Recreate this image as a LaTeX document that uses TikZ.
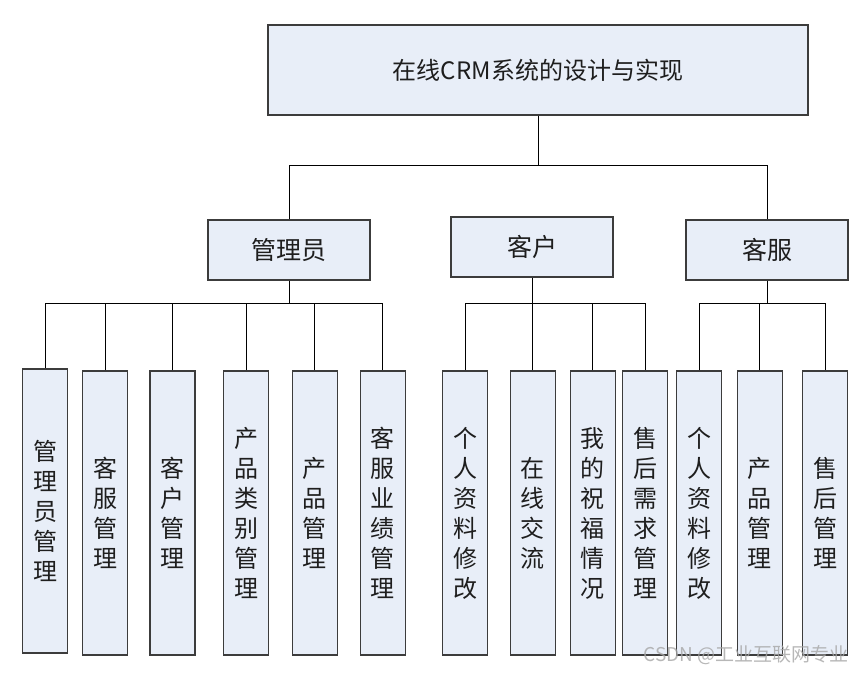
\documentclass[tikz,border=0pt]{standalone}
\usepackage{fontspec}
\newfontfamily\cjk{Noto Sans CJK SC}
\definecolor{boxfill}{RGB}{232,238,248}
\definecolor{boxline}{RGB}{60,60,60}
\definecolor{txt}{RGB}{30,30,30}
\tikzset{
  box/.style={draw=boxline, line width=1.3pt, fill=boxfill, inner sep=0pt, text=txt},
  topbox/.style={box, minimum width=540, minimum height=90, font=\cjk\fontsize{24}{28}\selectfont},
  midbox/.style={box, minimum width=162, minimum height=60, font=\cjk\fontsize{25}{30}\selectfont},
  leafbox/.style={box, minimum width=45, minimum height=284, align=center, font=\cjk\fontsize{24}{30}\selectfont},
  conn/.style={draw=black, line width=1pt},
}
\begin{document}
\begin{tikzpicture}[x=1pt,y=-1pt]
\useasboundingbox (0,0) rectangle (865,673);
\fill[white] (0,0) rectangle (865,673);
% top
\node[topbox] (top) at (538,70) {在线CRM系统的设计与实现};
% middle
\node[midbox] (adm) at (289,250) {管理员};
\node[midbox] (cus) at (532,247) {客户};
\node[midbox] (svc) at (767,250) {客服};
% leaves
\node[leafbox] (a1) at (45.2,511) {管\\理\\员\\管\\理};
\node[leafbox] (a2) at (105.2,513) {客\\服\\管\\理};
\node[leafbox] (a3) at (172.5,513) {客\\户\\管\\理};
\node[leafbox] (a4) at (246.2,513) {产\\品\\类\\别\\管\\理};
\node[leafbox] (a5) at (314.8,513) {产\\品\\管\\理};
\node[leafbox] (a6) at (382.7,513) {客\\服\\业\\绩\\管\\理};
\node[leafbox] (c1) at (465.2,513) {个\\人\\资\\料\\修\\改};
\node[leafbox] (c2) at (532.7,513) {在\\线\\交\\流};
\node[leafbox] (c3) at (592.7,513) {我\\的\\祝\\福\\情\\况};
\node[leafbox] (c4) at (645.2,513) {售\\后\\需\\求\\管\\理};
\node[leafbox] (s1) at (699.2,513) {个\\人\\资\\料\\修\\改};
\node[leafbox] (s2) at (759.8,513) {产\\品\\管\\理};
\node[leafbox] (s3) at (825.2,513) {售\\后\\管\\理};
% junction levels
\coordinate (j0) at (538,165);
\coordinate (ja) at (289,303);
\coordinate (jc) at (532,303);
\coordinate (js) at (767,303);
% top connectors
\draw[conn] (top.south) -- (j0);
\draw[conn] (adm.north) -- (adm.north |- j0) -- (svc.north |- j0) -- (svc.north);
% admin connectors
\draw[conn] (adm.south) -- (ja);
\draw[conn] (a1.north) -- (a1.north |- ja) -- (a6.north |- ja) -- (a6.north);
\foreach \n in {a2,a3,a4,a5} \draw[conn] (\n.north) -- (\n.north |- ja);
% customer connectors
\draw[conn] (cus.south) -- (jc);
\draw[conn] (c1.north) -- (c1.north |- jc) -- (c4.north |- jc) -- (c4.north);
\foreach \n in {c2,c3} \draw[conn] (\n.north) -- (\n.north |- jc);
% service connectors
\draw[conn] (svc.south) -- (js);
\draw[conn] (s1.north) -- (s1.north |- js) -- (s3.north |- js) -- (s3.north);
\draw[conn] (s2.north) -- (s2.north |- js);
% watermark
\node[anchor=east, text=gray!70, opacity=0.8, font=\cjk\fontsize{19}{21}\selectfont] (wm) at (852,655) {CSDN @工业互联网专业};
\end{tikzpicture}
\end{document}
